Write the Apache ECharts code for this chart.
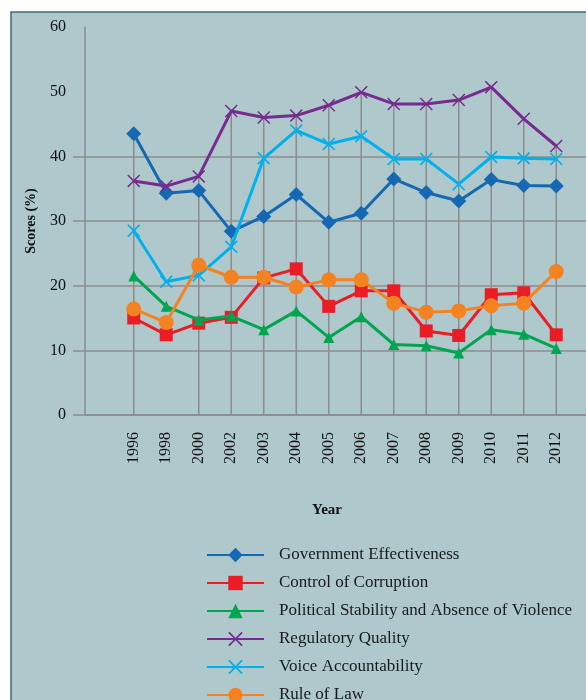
<!DOCTYPE html>
<html>
<head>
<meta charset="utf-8">
<script src="https://cdn.jsdelivr.net/npm/echarts@6/dist/echarts.min.js"></script>
<style>
  html, body { margin: 0; padding: 0; background: #ffffff; }
  #chart { width: 586px; height: 700px; }
</style>
</head>
<body>
<div id="chart"></div>
<script>
// Governance indicator scores by year (percent)
const years = ['1996', '1998', '2000', '2002', '2003', '2004', '2005', '2006', '2007', '2008', '2009', '2010', '2011', '2012'];
const govEffectiveness    = [43.5, 34.3, 34.7, 28.4, 30.7, 34.1, 29.8, 31.2, 36.5, 34.4, 33.1, 36.4, 35.5, 35.4];
const controlCorruption   = [15.0, 12.4, 14.2, 15.1, 21.2, 22.6, 16.8, 19.2, 19.2, 13.0, 12.3, 18.6, 18.9, 12.4];
const politicalStability  = [21.5, 16.8, 14.7, 15.3, 13.2, 16.1, 12.0, 15.2, 10.9, 10.7, 9.6, 13.2, 12.5, 10.3];
const regulatoryQuality   = [36.2, 35.4, 36.9, 47.0, 46.0, 46.3, 47.9, 49.9, 48.1, 48.1, 48.7, 50.7, 45.8, 41.6];
const voiceAccountability = [28.5, 20.6, 21.6, 26.0, 39.7, 44.0, 41.9, 43.1, 39.6, 39.6, 35.7, 39.9, 39.7, 39.6];
const ruleOfLaw           = [16.4, 14.3, 23.2, 21.3, 21.3, 19.8, 20.9, 20.9, 17.3, 15.9, 16.1, 16.9, 17.3, 22.2];
const yTickValues = [0, 10, 20, 30, 40, 50, 60];
const gridTickValues = [0, 10, 20, 30, 40];
// years that have no drop line
const noDropLine = ['1998'];

const FONT = '"Liberation Serif", "DejaVu Serif", serif';
const GRID_GRAY = '#8c8c8c';

// blank slots before and after the year range
const categories = [''].concat(years, ['']);
const pad = arr => [null].concat(arr, [null]);

const seriesDefs = [
  { name: 'Government Effectiveness', data: govEffectiveness, color: '#1668b3', symbol: 'diamond', size: 15 },
  { name: 'Control of Corruption', data: controlCorruption, color: '#ec1c24', symbol: 'rect', size: 13 },
  { name: 'Political Stability and Absence of Violence', data: politicalStability, color: '#00a551', symbol: 'triangle', size: 11 },
  { name: 'Regulatory Quality', data: regulatoryQuality, color: '#762b8f', symbol: 'path://M0,8 L8,0 L50,42 L92,0 L100,8 L58,50 L100,92 L92,100 L50,58 L8,100 L0,92 L42,50 Z', size: 13 },
  { name: 'Voice Accountability', data: voiceAccountability, color: '#00b1ed', symbol: 'path://M0,9 L9,0 L50,41 L91,0 L100,9 L59,50 L100,91 L91,100 L50,59 L9,100 L0,91 L41,50 Z', size: 13 },
  { name: 'Rule of Law', data: ruleOfLaw, color: '#f58220', symbol: 'circle', size: 15 }
];

// drop lines: from the highest value of each year down to the axis
const dropData = [];
years.forEach((yr, i) => {
  if (noDropLine.indexOf(yr) >= 0) return;
  const top = Math.max.apply(null, seriesDefs.map(s => s.data[i]));
  dropData.push([i + 1, top]);
});

const chart = echarts.init(document.getElementById('chart'), null, { renderer: 'canvas' });

const option = {
  animation: false,
  backgroundColor: '#ffffff',
  graphic: [{
    type: 'rect',
    z: -10,
    silent: true,
    shape: { x: 11, y: 12, width: 620, height: 720 },
    style: { fill: '#aec8cb', stroke: '#3c6e70', lineWidth: 1.5 }
  }],
  grid: { left: 85, top: 27, width: 520, height: 388, containLabel: false, outerBoundsMode: 'none' },
  legend: {
    orient: 'vertical',
    left: 206,
    top: 546,
    height: 200,
    padding: 0,
    itemWidth: 57,
    itemHeight: 18,
    itemGap: 10,
    textStyle: { fontFamily: FONT, fontSize: 17, color: '#1a1a1a', lineHeight: 18, padding: [0, 0, 0, 10] },
    data: seriesDefs.map(s => s.name)
  },
  xAxis: {
    type: 'category',
    data: categories,
    boundaryGap: true,
    name: 'Year',
    nameLocation: 'middle',
    nameGap: 88,
    nameTextStyle: { fontFamily: FONT, fontSize: 15, fontWeight: 'bold', color: '#111', padding: [0, 36, 0, 0] },
    axisLine: { show: true, lineStyle: { color: GRID_GRAY, width: 1.5 } },
    axisTick: { show: false },
    axisLabel: { rotate: 90, margin: 17, fontFamily: FONT, fontSize: 16, color: '#111', interval: 0 },
    splitLine: { show: false }
  },
  yAxis: {
    type: 'value',
    min: 0,
    max: 60,
    interval: 10,
    name: 'Scores (%)',
    nameLocation: 'middle',
    nameGap: 47,
    nameTextStyle: { fontFamily: FONT, fontSize: 14, fontWeight: 'bold', color: '#111' },
    axisLine: { show: true, lineStyle: { color: GRID_GRAY, width: 1.5 } },
    axisTick: { show: true, inside: false, length: 12, customValues: gridTickValues, lineStyle: { color: GRID_GRAY, width: 1.5 } },
    axisLabel: { margin: 19, fontFamily: FONT, fontSize: 16, color: '#111', customValues: yTickValues },
    splitLine: {
      show: true,
      lineStyle: {
        color: [GRID_GRAY, GRID_GRAY, GRID_GRAY, GRID_GRAY, GRID_GRAY, 'rgba(0,0,0,0)', 'rgba(0,0,0,0)'],
        width: 1.5
      }
    }
  },
  series: [{
    type: 'custom',
    name: 'drop',
    silent: true,
    z: 1,
    data: dropData,
    encode: { x: 0, y: 1 },
    renderItem: function (params, api) {
      const p1 = api.coord([api.value(0), api.value(1)]);
      const p0 = api.coord([api.value(0), 0]);
      return {
        type: 'line',
        shape: { x1: p1[0], y1: p1[1], x2: p0[0], y2: p0[1] },
        style: { stroke: GRID_GRAY, lineWidth: 1.5 }
      };
    }
  }].concat(seriesDefs.map((s, k) => ({
    type: 'line',
    name: s.name,
    data: pad(s.data),
    z: 3 + k,
    symbol: s.symbol,
    symbolSize: s.size,
    showSymbol: true,
    showAllSymbol: true,
    lineStyle: { color: s.color, width: 3 },
    itemStyle: { color: s.color, borderWidth: 0 },
    emphasis: { disabled: true }
  })))
};

chart.setOption(option);
</script>
</body>
</html>
